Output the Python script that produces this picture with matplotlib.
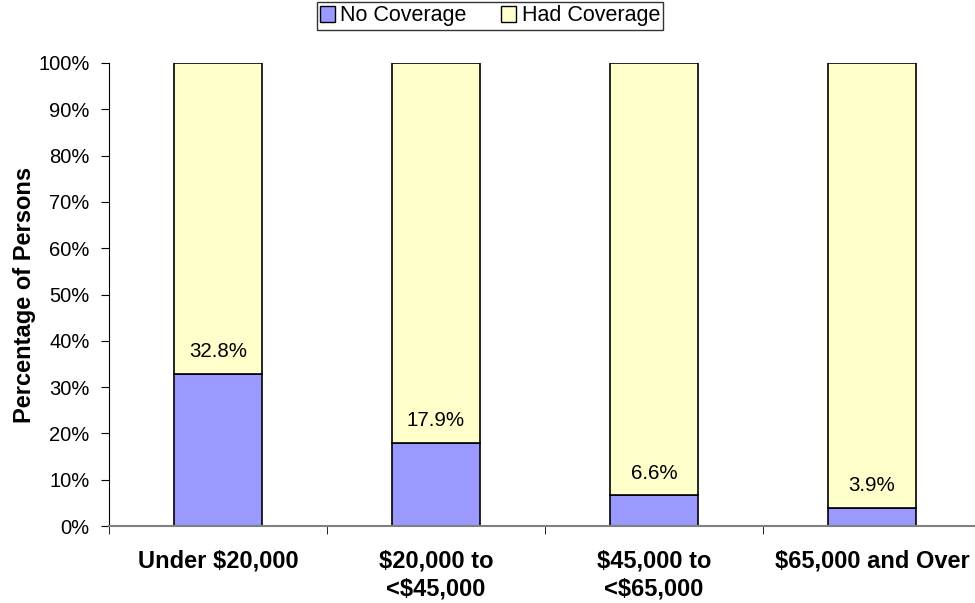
import numpy as np
import matplotlib.pyplot as plt
from matplotlib.patches import Patch

plt.rcParams['font.family'] = ['Liberation Sans', 'DejaVu Sans']

categories = ['Under $20,000', '$20,000 to\n<$45,000', '$45,000 to\n<$65,000', '$65,000 and Over']
no_coverage = [32.8, 17.9, 6.6, 3.9]
had_coverage = [100 - v for v in no_coverage]

blue = '#9999ff'
yellow = '#ffffcc'

fig = plt.figure(figsize=(9.75, 6.03), dpi=100)
ax = fig.add_axes([109 / 975, 1 - 526 / 603, 872 / 975, 463 / 603])

x = np.arange(len(categories))
w = 0.404
ax.bar(x, no_coverage, w, color=blue, edgecolor='black', linewidth=1.2, label='No Coverage')
ax.bar(x, had_coverage, w, bottom=no_coverage, color=yellow, edgecolor='black', linewidth=1.2,
       label='Had Coverage')

for xi, v in zip(x, no_coverage):
    ax.text(xi, v + 4.8, f'{v}%', ha='center', va='center', fontsize=14.8)

ax.set_xlim(-0.5, 3.5)
ax.set_ylim(0, 100)
ax.set_yticks(np.arange(0, 101, 10))
ax.set_yticklabels([f'{t}%' for t in range(0, 101, 10)], fontsize=14.5)
ax.set_xticks(x)
ax.set_xticklabels(categories, fontsize=17, fontweight='bold', va='top', linespacing=1.25)
ax.tick_params(axis='x', length=0, pad=17)
ax.set_xticks(np.arange(-0.5, 3.6, 1), minor=True)
ax.tick_params(axis='x', which='minor', length=6, color='black')
ax.tick_params(axis='y', length=6, color='black', pad=8)

ax.spines['top'].set_visible(False)
ax.spines['right'].set_visible(False)
ax.spines['bottom'].set_color('#808080')
ax.spines['bottom'].set_linewidth(1.5)
ax.spines['left'].set_color('black')
ax.set_ylabel('Percentage of Persons', fontsize=17, fontweight='bold')
ax.yaxis.set_label_coords(-73 / 872, 0.5)

handles = [Patch(facecolor=blue, edgecolor='black', label='No Coverage'),
           Patch(facecolor=yellow, edgecolor='black', label='Had Coverage')]
leg = fig.legend(handles=handles, loc='center', bbox_to_anchor=(490 / 975, 1 - 16 / 603), ncol=2,
                 fontsize=15.5, frameon=True, fancybox=False, handlelength=0.7, handleheight=0.7,
                 handletextpad=0.25, columnspacing=1.6, borderpad=0.15, borderaxespad=0)
leg.get_frame().set_edgecolor('black')
leg.get_frame().set_linewidth(1)

fig.savefig('out.png', dpi=100)
